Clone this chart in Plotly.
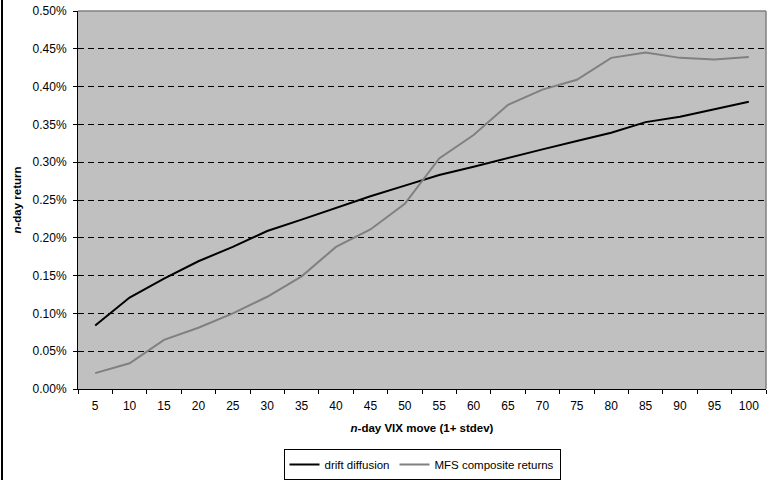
import plotly.graph_objects as go

categories = ["5", "10", "15", "20", "25", "30", "35", "40", "45", "50",
              "55", "60", "65", "70", "75", "80", "85", "90", "95", "100"]
drift_diffusion = [0.084, 0.121, 0.146, 0.169, 0.188, 0.209, 0.224, 0.240, 0.255, 0.269,
                   0.283, 0.294, 0.306, 0.317, 0.328, 0.339, 0.353, 0.360, 0.370, 0.380]
mfs_composite = [0.021, 0.034, 0.065, 0.081, 0.100, 0.122, 0.149, 0.188, 0.211, 0.245,
                 0.305, 0.336, 0.376, 0.396, 0.409, 0.438, 0.445, 0.438, 0.436, 0.439]
y_ticks = [0.0, 0.05, 0.10, 0.15, 0.20, 0.25, 0.30, 0.35, 0.40, 0.45, 0.50]

FONT = "Liberation Sans, Arial, sans-serif"

fig = go.Figure()
fig.add_trace(go.Scatter(x=categories, y=[v / 100 for v in drift_diffusion],
                         mode="lines", name="drift diffusion",
                         line=dict(color="#000000", width=2)))
fig.add_trace(go.Scatter(x=categories, y=[v / 100 for v in mfs_composite],
                         mode="lines", name="MFS composite returns",
                         line=dict(color="#808080", width=2)))

W, H = 779, 480
L, R, T, B = 78, 13, 11, 91
pw, ph = W - L - R, H - T - B

fig.update_layout(
    width=W, height=H,
    margin=dict(l=L, r=R, t=T, b=B, pad=0, autoexpand=False),
    paper_bgcolor="white",
    plot_bgcolor="#C0C0C0",
    font=dict(family=FONT, size=12, color="black"),
    showlegend=True,
    legend=dict(orientation="h", x=0.5, xanchor="center",
                y=-(60) / ph, yanchor="top",
                bordercolor="black", borderwidth=1, bgcolor="white",
                font=dict(family=FONT, size=11.5, color="black"),
                itemwidth=30, tracegroupgap=0),
    xaxis=dict(type="category", categoryorder="array", categoryarray=categories,
               range=[-0.5, len(categories) - 0.5], automargin=False,
               showgrid=False, showline=True, linecolor="black", linewidth=1,
               ticks="outside", ticklen=4, tickcolor="black", tickson="boundaries",
               ticklabelstandoff=6,
               tickfont=dict(family=FONT, size=12, color="black"),
               title=dict(text="<b><i>n</i>-day VIX move (1+ stdev)</b>",
                          font=dict(family=FONT, size=11.5, color="black"), standoff=11),
               zeroline=False, fixedrange=True),
    yaxis=dict(range=[0, 0.005], tickvals=[v / 100 for v in y_ticks],
               tickformat=".2%", automargin=False, ticklabeloverflow="allow",
               showgrid=True, gridcolor="black", gridwidth=1, griddash="6px,4px",
               showline=True, linecolor="black", linewidth=1,
               ticks="outside", ticklen=4, tickcolor="black",
               ticklabelstandoff=4,
               tickfont=dict(family=FONT, size=12, color="black"),
               title=dict(text="<b><i>n</i>-day return</b>",
                          font=dict(family=FONT, size=11.5, color="black"), standoff=8),
               zeroline=False, fixedrange=True),
    shapes=[
        dict(type="line", xref="paper", yref="paper", x0=0, x1=1, y0=1, y1=1,
             line=dict(color="#808080", width=1.5), layer="above"),
        dict(type="line", xref="paper", yref="paper", x0=1, x1=1, y0=0, y1=1,
             line=dict(color="#808080", width=1.5), layer="above"),
        dict(type="line", xref="paper", yref="paper",
             x0=(2 - L) / pw, x1=(2 - L) / pw,
             y0=-B / ph, y1=1 + T / ph,
             line=dict(color="black", width=2), layer="above"),
    ],
)

fig.write_html("out.html",
               config={"displayModeBar": False, "staticPlot": True},
               post_script="document.body.style.margin='0';document.body.style.overflow='hidden';")
